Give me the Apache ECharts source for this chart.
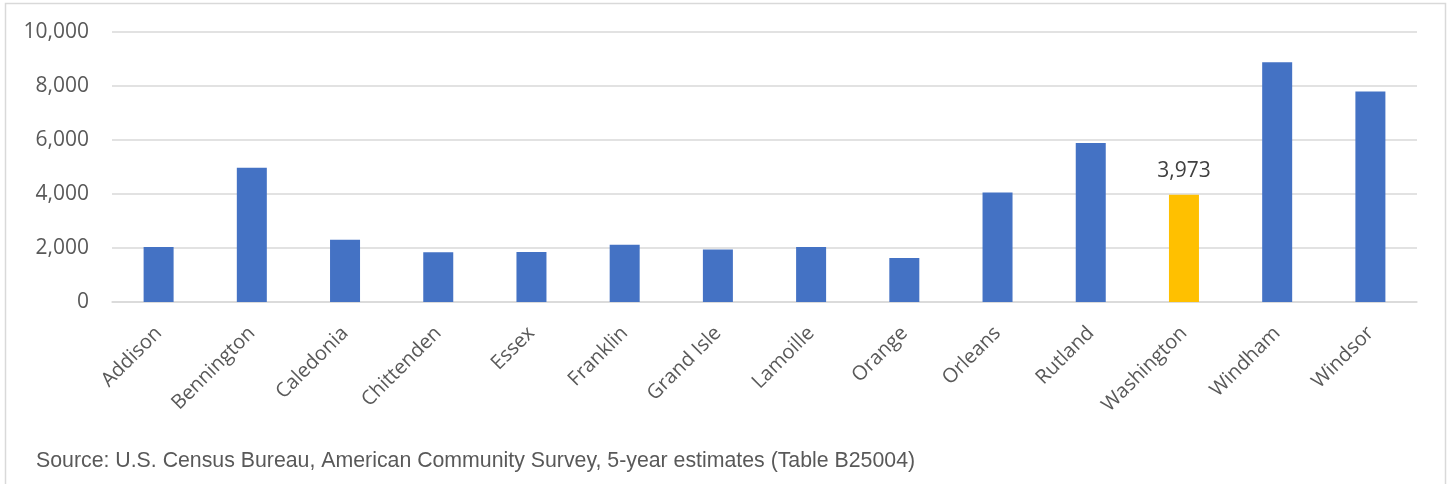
<!DOCTYPE html>
<html>
<head>
<meta charset="utf-8">
<script src="https://cdn.jsdelivr.net/npm/echarts@6/dist/echarts.min.js"></script>
<style>
  html, body { margin: 0; padding: 0; background: #ffffff; }
  #chart { width: 1449px; height: 484px; }
</style>
</head>
<body>
<div id="chart"></div>
<script>
// Vacant housing units by Vermont county
const counties = ['Addison', 'Bennington', 'Caledonia', 'Chittenden', 'Essex', 'Franklin', 'Grand Isle',
  'Lamoille', 'Orange', 'Orleans', 'Rutland', 'Washington', 'Windham', 'Windsor'];
const vacantUnits = [2040, 4970, 2310, 1840, 1850, 2120, 1940, 2040, 1630, 4060, 5890, 3973, 8880, 7800];
const highlighted = 'Washington';
const yTicks = [0, 2000, 4000, 6000, 8000, 10000];
const sourceNote = 'Source: U.S. Census Bureau, American Community Survey, 5-year estimates (Table B25004)';

const blue = '#4472C4';
const gold = '#FFC000';
const fmt = v => v.toLocaleString('en-US');

const chart = echarts.init(document.getElementById('chart'), null, { renderer: 'canvas' });

chart.setOption({
  animation: false,
  backgroundColor: '#ffffff',
  grid: { left: 112, right: 32, top: 32, bottom: 182, containLabel: false },
  xAxis: {
    type: 'category',
    data: counties,
    axisLine: { show: true, lineStyle: { color: '#d9d9d9', width: 1.5 } },
    axisTick: { show: false },
    axisLabel: {
      rotate: 45,
      interval: 0,
      margin: 28,
      color: '#595959',
      fontFamily: 'Open Sans',
      fontSize: 20
    }
  },
  yAxis: {
    type: 'value',
    min: yTicks[0],
    max: yTicks[yTicks.length - 1],
    interval: yTicks[1] - yTicks[0],
    axisLine: { show: false },
    axisTick: { show: false },
    splitLine: { lineStyle: { color: '#d9d9d9', width: 1.5 } },
    axisLabel: {
      margin: 23,
      color: '#595959',
      fontFamily: 'Open Sans',
      fontSize: 21,
      formatter: v => fmt(v)
    }
  },
  series: [{
    type: 'bar',
    barWidth: 30,
    data: vacantUnits.map((v, i) => {
      const isHi = counties[i] === highlighted;
      return {
        value: v,
        itemStyle: { color: isHi ? gold : blue },
        label: isHi ? {
          show: true,
          position: 'top',
          distance: 13,
          color: '#404040',
          fontFamily: 'Open Sans',
          fontSize: 21,
          formatter: p => fmt(p.value)
        } : { show: false }
      };
    })
  }],
  graphic: [
    {
      type: 'rect',
      shape: { x: 5.5, y: 3.5, width: 1440, height: 490 },
      style: { fill: 'none', stroke: '#d9d9d9', lineWidth: 1.5 },
      silent: true
    },
    {
      type: 'text',
      left: 36,
      top: 451,
      style: {
        text: sourceNote,
        fill: '#595959',
        font: '21.3px "Liberation Sans", Arial, sans-serif'
      }
    }
  ]
});
</script>
</body>
</html>
